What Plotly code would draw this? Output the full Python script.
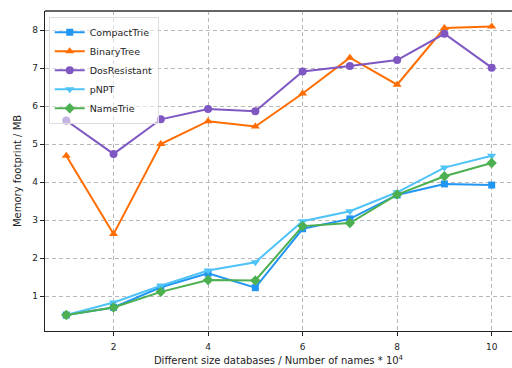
import plotly.graph_objects as go

x = [1, 2, 3, 4, 5, 6, 7, 8, 9, 10]
compact_trie = [0.50, 0.70, 1.23, 1.60, 1.22, 2.77, 3.03, 3.66, 3.95, 3.92]
binary_tree = [4.69, 2.63, 5.00, 5.60, 5.46, 6.33, 7.27, 6.56, 8.05, 8.09]
dos_resistant = [5.62, 4.74, 5.65, 5.92, 5.86, 6.91, 7.05, 7.21, 7.90, 7.01]
pnpt = [0.50, 0.83, 1.27, 1.67, 1.89, 2.97, 3.23, 3.73, 4.38, 4.69]
name_trie = [0.50, 0.70, 1.11, 1.42, 1.41, 2.84, 2.92, 3.67, 4.15, 4.50]

series = [
    ("CompactTrie", compact_trie, "#2196F3", "square", 7),
    ("BinaryTree", binary_tree, "#FF6D00", "triangle-up", 8),
    ("DosResistant", dos_resistant, "#7E57C2", "circle", 8),
    ("pNPT", pnpt, "#4FC3F7", "triangle-down", 8),
    ("NameTrie", name_trie, "#4CAF50", "diamond", 8),
]
x_ticks = [2, 4, 6, 8, 10]
y_ticks = [1, 2, 3, 4, 5, 6, 7, 8]

fig = go.Figure()
for name, vals, color, sym, size in series:
    fig.add_trace(go.Scatter(
        x=x, y=vals, name=name, mode="lines+markers",
        line=dict(color=color, width=2),
        marker=dict(symbol=sym, size=size, color=color),
    ))

font = "DejaVu Sans"
fig.update_layout(
    width=512, height=368,
    margin=dict(l=45, r=0, t=11, b=37),
    paper_bgcolor="white", plot_bgcolor="white",
    font=dict(family=font, size=9, color="#222"),
    showlegend=True,
    legend=dict(x=0.008, y=0.982, xanchor="left", yanchor="top",
                bgcolor="rgba(255,255,255,0.55)", bordercolor="#dddddd", borderwidth=1,
                font=dict(size=9.5, family=font, color="#222"), tracegroupgap=0,
                itemwidth=30),
    xaxis=dict(range=[0.55, 10.43], tickvals=x_ticks, ticks="outside", ticklen=4,
               tickcolor="#222", showline=True, linecolor="#222", linewidth=1.2,
               showgrid=True, gridcolor="#b8b8b8", griddash="4px,3px", gridwidth=1,
               zeroline=False, automargin=False, ticklabelstandoff=3,
               title=dict(text="Different size databases / Number of names * 10<sup>4</sup>",
                          font=dict(size=10, family=font), standoff=6),
               tickfont=dict(size=9)),
    yaxis=dict(range=[0.08, 8.5], tickvals=y_ticks, ticks="outside", ticklen=4,
               tickcolor="#222", showline=True, linecolor="#222", linewidth=1.2,
               showgrid=True, gridcolor="#b8b8b8", griddash="4px,3px", gridwidth=1,
               zeroline=False, automargin=False,
               title=dict(text="Memory footprint / MB", font=dict(size=10, family=font), standoff=8),
               tickfont=dict(size=9)),
)
fig.add_shape(type="line", xref="paper", yref="paper", x0=0, x1=1, y0=1, y1=1,
              line=dict(color="#666", width=2))

fig.write_html("out.html", config={"displayModeBar": False},
               post_script="document.body.style.margin='0';")
